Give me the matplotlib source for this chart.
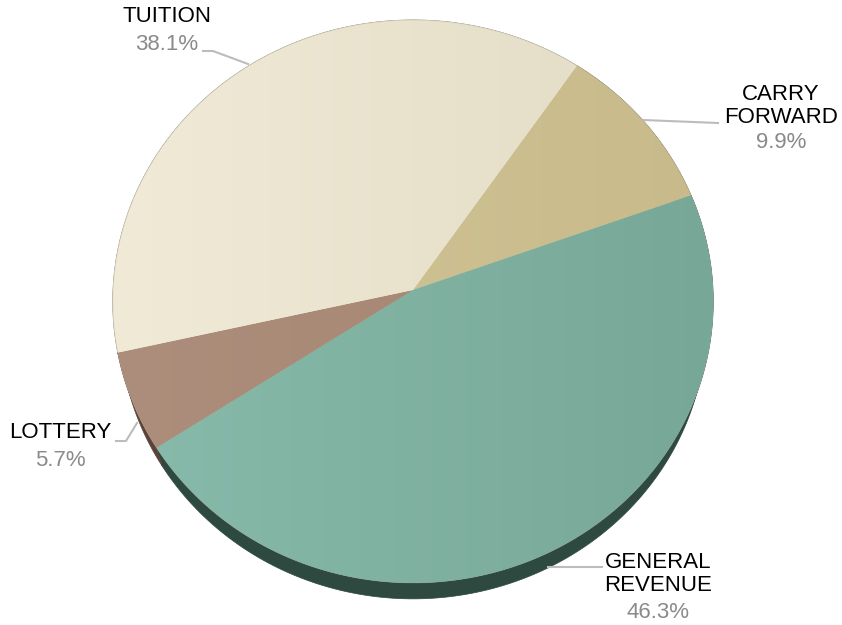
import numpy as np
import matplotlib.pyplot as plt
from matplotlib.patches import Polygon
from matplotlib.colors import LinearSegmentedColormap

# Data
labels = ['CARRY\nFORWARD', 'GENERAL\nREVENUE', 'LOTTERY', 'TUITION']
pcts = ['9.9%', '46.3%', '5.7%', '38.1%']
values = [9.9, 46.3, 5.7, 38.1]

# top colours (light, dark) for a soft left-to-right gradient, side colours
grad = [('#d2c598', '#c8ba8a'),
        ('#88bbab', '#77a797'),
        ('#ad8e7c', '#a3846f'),
        ('#f0ead7', '#e2dbc4')]
side = ['#6b6048', '#2d4940', '#5b4237', '#8a8570']

W, H = 842, 625
ax0, ay0 = 413, 290          # projected pie centre in pixels
start = 55.6                 # start angle (deg), slices go clockwise

# simple perspective camera for the tilted disc
elev = np.arccos(0.35)
cam_d = 8.6
focal = 300 * cam_d
thick = 0.214


def project(x, y, z=0.0):
    s, c = np.sin(elev), np.cos(elev)
    depth = y * c + cam_d - z * s
    X = focal * x / depth
    Y = focal * (y * s + z * c) / depth
    return ax0 + X, ay0 - Y


fig = plt.figure(figsize=(W / 100, H / 100), dpi=100)
ax = fig.add_axes([0, 0, 1, 1])
ax.axis('off')

xs = np.linspace(0, 1, 256).reshape(1, -1)
bounds = start - np.cumsum([0] + values) / 100 * 360

# side walls first
for i in range(len(values)):
    phi = np.radians(np.linspace(bounds[i], bounds[i + 1], 200))
    tx, ty = project(np.cos(phi), np.sin(phi))
    bx, by = project(np.cos(phi), np.sin(phi), -thick)
    pts = np.column_stack([np.r_[tx, bx[::-1]], np.r_[ty, by[::-1]]])
    ax.add_patch(Polygon(pts, closed=True, fc=side[i], ec=side[i], lw=0.5,
                         zorder=1))

# top faces
for i in range(len(values)):
    phi = np.radians(np.linspace(bounds[i], bounds[i + 1], 200))
    tx, ty = project(np.cos(phi), np.sin(phi))
    pts = np.column_stack([np.r_[ax0, tx], np.r_[ay0, ty]])
    poly = Polygon(pts, closed=True, fc=grad[i][0], ec='none', zorder=2)
    ax.add_patch(poly)
    cm = LinearSegmentedColormap.from_list('g', list(grad[i]))
    im = ax.imshow(xs, extent=(110, 716, H, 0), cmap=cm, aspect='auto',
                   interpolation='bilinear', zorder=2.1)
    im.set_clip_path(poly)

# faint rim on the top face
phi = np.radians(np.linspace(0, 360, 400))
rx_, ry_ = project(np.cos(phi), np.sin(phi))
ax.plot(rx_, ry_, color='#a9a597', lw=0.6, alpha=0.35, zorder=3)

ax.set_xlim(0, W)
ax.set_ylim(H, 0)

font = dict(family='Liberation Sans', fontsize=16, ha='center', va='center')


def label(x, y, name, py, pct):
    ax.text(x, y, name, color='#000000', linespacing=1.12, **font)
    ax.text(x, py, pct, color='#8a8a8a', **font)


def leader(px, py):
    ax.plot(px, py, color='#bcbcbc', lw=1.5, zorder=4)


label(781, 106, labels[0], 143, pcts[0])
label(658, 574, labels[1], 612, pcts[1])
label(60, 433, labels[2], 460, pcts[2])
label(167, 17, labels[3], 44, pcts[3])

leader([643, 718], [120, 123])
leader([548, 602], [567, 567])
leader([116, 126, 137], [441, 441, 423])
leader([203, 213, 248], [51, 51, 64])

fig.savefig('out.png', dpi=100, facecolor='white')
